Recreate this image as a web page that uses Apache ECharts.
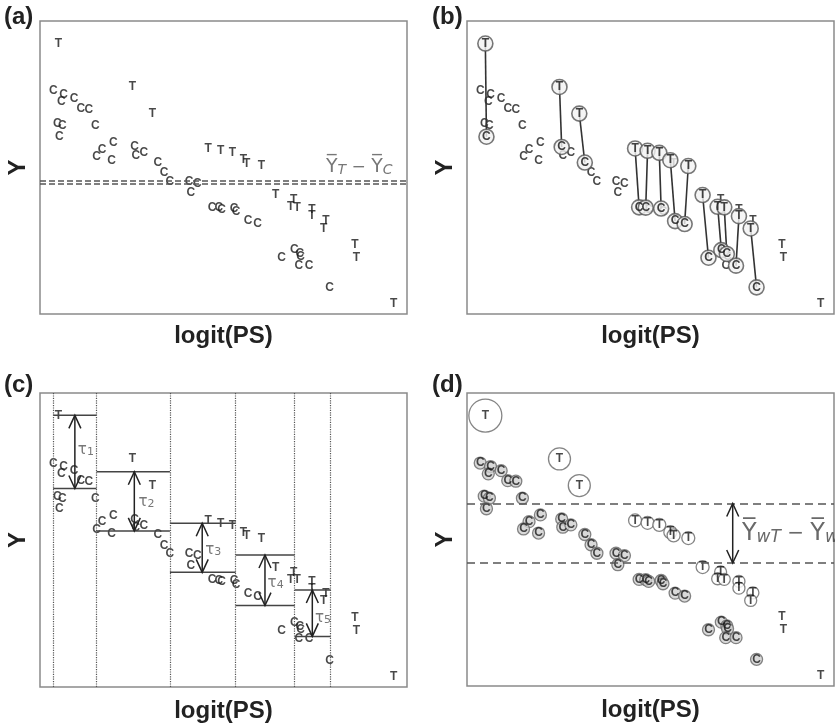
<!DOCTYPE html>
<html>
<head>
<meta charset="utf-8">
<script src="https://cdn.jsdelivr.net/npm/echarts@6/dist/echarts.min.js"></script>
<style>
  html, body { margin: 0; padding: 0; background: #fff; }
  #main { width: 835px; height: 726px; }
</style>
</head>
<body>
<div id="main"></div>
<script>
  // treated (T) and control (C) units, x = logit(PS), y = outcome (arbitrary 0-100 units)
  var tX = [5.0, 25.2, 30.6, 45.8, 49.2, 52.4, 55.4, 56.3, 60.3, 64.2, 69.1, 68.3, 70.1, 74.1, 74.1, 77.9, 77.3, 85.8, 86.2, 96.4];
  var tY = [92.3, 77.5, 68.4, 56.5, 55.7, 55.0, 52.5, 51.4, 50.5, 40.6, 38.9, 36.6, 36.4, 35.7, 33.4, 31.8, 29.2, 23.5, 19.3, 3.4];
  var cX = [3.6, 6.4, 5.8, 9.3, 11.1, 13.3, 4.7, 6.1, 5.3, 15.1, 20.0, 16.9, 15.4, 19.5, 25.8, 26.1, 28.3,
            32.1, 33.8, 35.4, 40.6, 42.9, 41.1, 46.9, 48.7, 49.5, 52.9, 53.4, 56.7, 59.3, 65.8, 69.3, 70.8, 71.0, 70.5, 73.3, 78.9];
  var cY = [76.1, 74.9, 72.4, 73.5, 70.1, 69.9, 64.8, 64.1, 60.5, 64.1, 58.4, 56.1, 53.6, 52.2, 57.0, 54.2, 55.0,
            51.7, 48.2, 45.3, 45.3, 44.5, 41.4, 36.4, 36.3, 35.7, 36.0, 34.9, 31.7, 30.7, 19.2, 21.8, 20.5, 19.5, 16.5, 16.5, 9.1];

  // (a) naive difference in means
  var meanLinesA = [45.5, 44.5];
  var labelA = [87, 50];

  // (b) matched pairs (index into T and C lists)
  var pairT = [0, 1, 2, 3, 4, 5, 6, 8, 9, 11, 12, 14, 16];
  var pairC = [8, 14, 17, 23, 24, 26, 28, 29, 30, 31, 32, 35, 36];

  // (c) stratification
  var strataBounds = [3.6, 15.4, 35.4, 53.3, 69.4, 79.2];
  var strataTMean = [92.4, 73.2, 55.7, 44.9, 33.0];
  var strataCMean = [67.5, 53.1, 39.0, 27.7, 17.2];
  var strataArrowX = [9.5, 25.7, 44.2, 61.3, 74.2];
  var tauX = [12.5, 29.0, 47.2, 64.2, 77.1];
  var tauY = [80.5, 63.0, 46.6, 35.3, 23.4];

  // (d) weighting
  var tWeight = [33, 22, 22, 13, 13, 13, 13, 13, 13, 13, 12, 12, 12, 12, 12, 12, 12, 0, 0, 0];
  var cWeight = 12;
  var meanLinesD = [62.3, 42.0];
  var arrowXD = 72.4;
  var labelD = [73.4, 52];

  var font = 'Liberation Sans';
  var chart = echarts.init(document.getElementById('main'));

  var grids = [
    { left: 40, top: 21, width: 367, height: 293 },
    { left: 467, top: 21, width: 367, height: 293 },
    { left: 40, top: 393, width: 367, height: 294 },
    { left: 467, top: 393, width: 367, height: 293 }
  ];
  grids.forEach(function (g) { g.show = true; g.borderColor = '#8a8a8a'; g.borderWidth = 1.5; g.backgroundColor = '#fff'; });

  function xAx(i, gap) {
    return { gridIndex: i, type: 'value', min: 0, max: 100, axisLine: { show: false }, axisTick: { show: false },
      axisLabel: { show: false }, splitLine: { show: false },
      name: 'logit(PS)', nameLocation: 'middle', nameGap: gap,
      nameTextStyle: { fontFamily: font, fontWeight: 'bold', fontSize: 24, color: '#222' } };
  }
  function yAx(i) {
    return { gridIndex: i, type: 'value', min: 0, max: 100, axisLine: { show: false }, axisTick: { show: false },
      axisLabel: { show: false }, splitLine: { show: false },
      name: 'Y', nameLocation: 'middle', nameGap: 10, nameRotate: 90,
      nameTextStyle: { fontFamily: font, fontWeight: 'bold', fontSize: 24, color: '#222' } };
  }

  var letterLabel = function (txt) {
    return { show: true, position: 'inside', formatter: txt, fontFamily: font, fontWeight: 'bold', fontSize: 12, color: '#1a1a1a' };
  };
  var tPts = tX.map(function (x, i) { return [x, tY[i]]; });
  var cPts = cX.map(function (x, i) { return [x, cY[i]]; });

  function letters(i) {
    return [
      { type: 'scatter', xAxisIndex: i, yAxisIndex: i, data: cPts, symbolSize: 2, itemStyle: { color: 'rgba(0,0,0,0)' },
        label: letterLabel('C'), silent: true, z: 3 },
      { type: 'scatter', xAxisIndex: i, yAxisIndex: i, data: tPts, symbolSize: 2, itemStyle: { color: 'rgba(0,0,0,0)' },
        label: letterLabel('T'), silent: true, z: 3 }
    ];
  }

  function arrowHead(x, y, dir) {
    // open V head, dir = -1 pointing up, 1 pointing down
    return { type: 'polyline', shape: { points: [[x - 6, y - dir * 13], [x, y], [x + 6, y - dir * 13]] },
      style: { stroke: '#222', lineWidth: 1.5, fill: null } };
  }

  var series = [];

  // ---- (a)
  series = series.concat(letters(0));
  series.push({
    type: 'scatter', xAxisIndex: 0, yAxisIndex: 0, data: [labelA], symbolSize: 1, itemStyle: { color: 'rgba(0,0,0,0)' },
    label: { show: true, position: 'inside', formatter: '{y|Y\u0305}{s|T}{m| \u2212 }{y|Y\u0305}{s|C}',
      rich: {
        y: { fontFamily: 'DejaVu Sans', fontSize: 19, color: '#555' },
        m: { fontFamily: 'DejaVu Sans', fontSize: 17, color: '#555' },
        s: { fontFamily: 'DejaVu Sans', fontStyle: 'italic', fontSize: 14, color: '#555', verticalAlign: 'bottom' }
      } },
    markLine: { symbol: 'none', silent: true, label: { show: false },
      lineStyle: { color: '#555', type: [6, 3], width: 1.5 },
      data: meanLinesA.map(function (v) { return { yAxis: v }; }) },
    z: 4
  });

  // ---- (b)
  series = series.concat(letters(1));
  series.push({
    type: 'custom', xAxisIndex: 1, yAxisIndex: 1, z: 4,
    data: pairT.map(function (ti, k) { return [tX[ti], tY[ti], cX[pairC[k]], cY[pairC[k]]]; }),
    encode: { x: [0, 2], y: [1, 3] },
    renderItem: function (params, api) {
      var p1 = api.coord([api.value(0), api.value(1)]);
      var p2 = api.coord([api.value(2), api.value(3)]);
      return { type: 'line', shape: { x1: p1[0], y1: p1[1], x2: p2[0], y2: p2[1] }, style: { stroke: '#333', lineWidth: 1.6 } };
    }
  });
  var circB = { color: '#f2f2f2', borderColor: '#555', borderWidth: 1.6 };
  series.push({ type: 'scatter', xAxisIndex: 1, yAxisIndex: 1, z: 5, symbolSize: 15, itemStyle: circB, label: letterLabel('C'),
    data: pairC.map(function (ci) { return cPts[ci]; }) });
  series.push({ type: 'scatter', xAxisIndex: 1, yAxisIndex: 1, z: 5, symbolSize: 15, itemStyle: circB, label: letterLabel('T'),
    data: pairT.map(function (ti) { return tPts[ti]; }) });

  // ---- (c)
  series = series.concat(letters(2));
  series.push({
    type: 'scatter', xAxisIndex: 2, yAxisIndex: 2, data: [], silent: true,
    markLine: { symbol: 'none', silent: true, label: { show: false },
      lineStyle: { color: '#555', type: 'dotted', width: 1.2 },
      data: strataBounds.map(function (v) { return { xAxis: v }; }) }
  });
  series.push({
    type: 'custom', xAxisIndex: 2, yAxisIndex: 2, z: 4,
    data: strataTMean.map(function (t, k) { return [strataBounds[k], strataBounds[k + 1], t, strataCMean[k], strataArrowX[k]]; }),
    encode: { x: [0, 1], y: [2, 3] },
    renderItem: function (params, api) {
      var x0 = api.value(0), x1 = api.value(1), t = api.value(2), c = api.value(3), ax = api.value(4);
      var a = api.coord([x0, t]), b = api.coord([x1, t]);
      var e = api.coord([x0, c]), f = api.coord([x1, c]);
      var top = api.coord([ax, t]), bot = api.coord([ax, c]);
      return { type: 'group', children: [
        { type: 'line', shape: { x1: a[0], y1: a[1], x2: b[0], y2: b[1] }, style: { stroke: '#444', lineWidth: 1.5 } },
        { type: 'line', shape: { x1: e[0], y1: e[1], x2: f[0], y2: f[1] }, style: { stroke: '#444', lineWidth: 1.5 } },
        { type: 'line', shape: { x1: top[0], y1: top[1], x2: bot[0], y2: bot[1] }, style: { stroke: '#222', lineWidth: 1.5 } },
        arrowHead(top[0], top[1], -1),
        arrowHead(bot[0], bot[1], 1)
      ] };
    }
  });
  series.push({
    type: 'scatter', xAxisIndex: 2, yAxisIndex: 2, z: 5, symbolSize: 1, itemStyle: { color: 'rgba(0,0,0,0)' },
    data: tauX.map(function (x, k) { return [x, tauY[k], k + 1]; }),
    label: { show: true, position: 'inside',
      formatter: function (p) { return '{t|\u03c4}{s|' + p.value[2] + '}'; },
      rich: {
        t: { fontFamily: 'DejaVu Sans', fontSize: 15, color: '#555' },
        s: { fontFamily: 'DejaVu Sans', fontSize: 11, color: '#555', verticalAlign: 'bottom' }
      } }
  });

  // ---- (d)
  series.push({ type: 'scatter', xAxisIndex: 3, yAxisIndex: 3, z: 4, symbolSize: cWeight,
    itemStyle: { color: '#cfcfcf', borderColor: '#666', borderWidth: 1.3 }, label: letterLabel('C'), data: cPts });
  series.push({ type: 'scatter', xAxisIndex: 3, yAxisIndex: 3, z: 4,
    symbolSize: function (v, p) { return tWeight[p.dataIndex]; },
    itemStyle: { color: '#fff', borderColor: '#666', borderWidth: 1.3 }, label: letterLabel('T'), data: tPts });
  series.push({
    type: 'custom', xAxisIndex: 3, yAxisIndex: 3, z: 5,
    data: [[arrowXD, meanLinesD[0], meanLinesD[1]]],
    encode: { x: 0, y: [1, 2] },
    renderItem: function (params, api) {
      var top = api.coord([api.value(0), api.value(1)]), bot = api.coord([api.value(0), api.value(2)]);
      return { type: 'group', children: [
        { type: 'line', shape: { x1: top[0], y1: top[1], x2: bot[0], y2: bot[1] }, style: { stroke: '#222', lineWidth: 1.5 } },
        arrowHead(top[0], top[1], -1),
        arrowHead(bot[0], bot[1], 1)
      ] };
    }
  });
  series.push({
    type: 'scatter', xAxisIndex: 3, yAxisIndex: 3, data: [labelD], symbolSize: 1, itemStyle: { color: 'rgba(0,0,0,0)' },
    label: { show: true, position: 'right', formatter: '{y|Y\u0305}{s|wT}{m| \u2212 }{y|Y\u0305}{s|wC}',
      rich: {
        y: { fontFamily: 'DejaVu Sans', fontSize: 24, color: '#444' },
        m: { fontFamily: 'DejaVu Sans', fontSize: 20, color: '#444' },
        s: { fontFamily: 'DejaVu Sans', fontStyle: 'italic', fontSize: 17, color: '#444', verticalAlign: 'bottom' }
      } },
    markLine: { symbol: 'none', silent: true, label: { show: false },
      lineStyle: { color: '#555', type: [8, 5], width: 1.5 },
      data: meanLinesD.map(function (v) { return { yAxis: v }; }) },
    z: 5
  });

  var panelLabels = [['(a)', 4, 5], ['(b)', 432, 5], ['(c)', 4, 373], ['(d)', 432, 373]];

  chart.setOption({
    animation: false,
    grid: grids,
    xAxis: [xAx(0, 10), xAx(1, 10), xAx(2, 12), xAx(3, 12)],
    yAxis: [yAx(0), yAx(1), yAx(2), yAx(3)],
    graphic: panelLabels.map(function (p) {
      return { type: 'text', left: p[1], top: p[2], style: { text: p[0], fontFamily: font, fontWeight: 'bold', fontSize: 24, fill: '#222' } };
    }),
    series: series
  });
</script>
</body>
</html>
